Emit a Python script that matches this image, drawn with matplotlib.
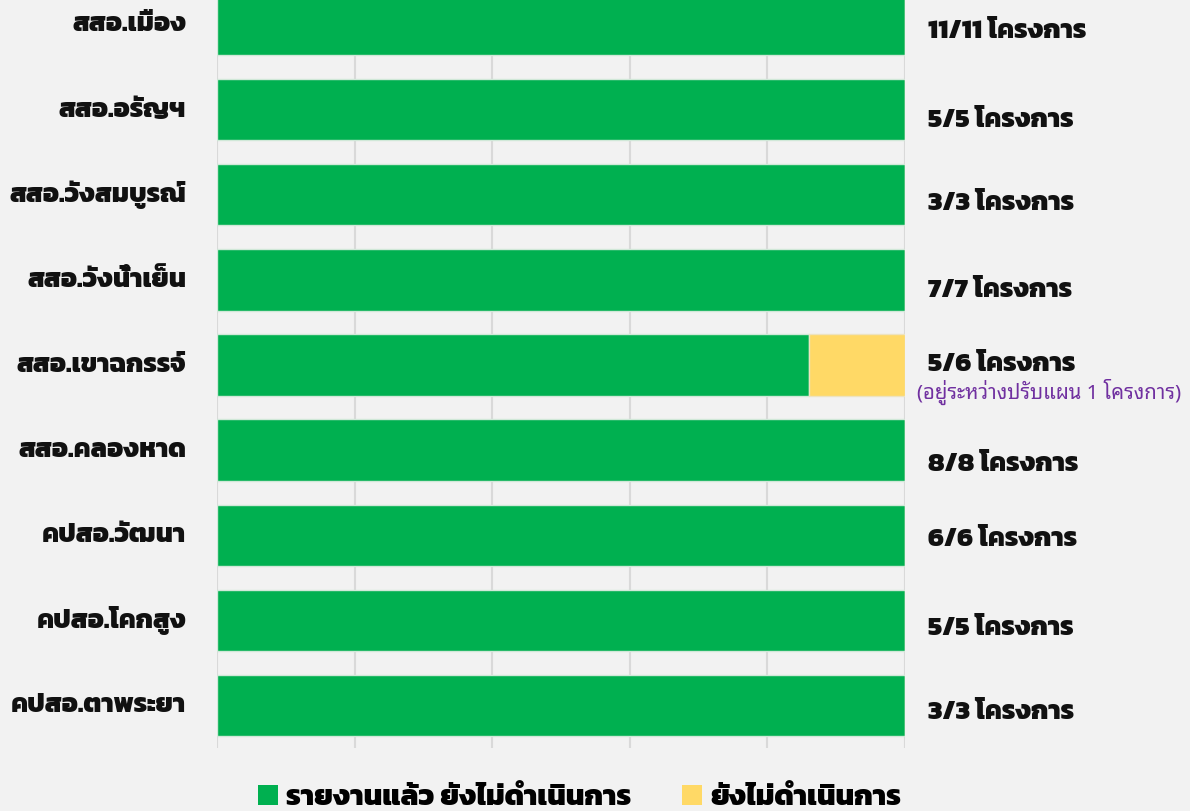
import matplotlib
matplotlib.use("Agg")
import matplotlib.pyplot as plt
from matplotlib.patches import Patch

# ---- data ----
categories = ["สสอ.เมือง", "สสอ.อรัญฯ", "สสอ.วังสมบูรณ์", "สสอ.วังน้ำเย็น",
              "สสอ.เขาฉกรรจ์", "สสอ.คลองหาด", "คปสอ.วัฒนา", "คปสอ.โคกสูง",
              "คปสอ.ตาพระยา"]
reported_pct = [100, 100, 100, 100, 86, 100, 100, 100, 100]
pending_pct = [0, 0, 0, 0, 14, 0, 0, 0, 0]
right_labels = ["11/11 โครงการ", "5/5 โครงการ", "3/3 โครงการ", "7/7 โครงการ",
                "5/6 โครงการ", "8/8 โครงการ", "6/6 โครงการ", "5/5 โครงการ",
                "3/3 โครงการ"]
note_index = 4
note_text = "(อยู่ระหว่างปรับแผน 1 โครงการ)"
legend_labels = ["รายงานแล้ว ยังไม่ดำเนินการ", "ยังไม่ดำเนินการ"]
xticks = [0, 20, 40, 60, 80, 100]

# layout: vertical offsets (in category units) of the right-hand labels
right_dy = [0.08, 0.125, 0.10, 0.12, -0.01, 0.165, 0.05, 0.095, 0.085]

GREEN = "#00B050"
YELLOW = "#FFD966"
BG = "#F2F2F2"
GRID = "#D9D9D9"
PURPLE = "#7030A0"
THAI_BOLD = ["Kanit", "DejaVu Sans"]
THAI_REG = ["Noto Sans Thai Looped", "DejaVu Sans"]
W = 800

fig = plt.figure(figsize=(11.9, 8.11), dpi=100, facecolor=BG)
ax = fig.add_axes([217/1190, 63/811, (905-217)/1190, (811+18-63)/811])
ax.set_facecolor(BG)

y = list(range(len(categories)))
ax.barh(y, reported_pct, height=0.72, color=GREEN, edgecolor="#D0E8D8", linewidth=1, zorder=3)
ax.barh(y, pending_pct, left=reported_pct, height=0.72, color=YELLOW,
        edgecolor="#EDE3C0", linewidth=1, zorder=3)

ax.set_xlim(0, 100)
ax.set_ylim(len(categories) - 0.5, -0.5)
ax.set_xticks(xticks)
ax.set_yticks([])
ax.grid(axis="x", color=GRID, linewidth=1.5, zorder=0)
ax.tick_params(axis="x", length=0, labelbottom=False)
for s in ax.spines.values():
    s.set_visible(False)

for i, cat in enumerate(categories):
    ax.text(-0.045, i + 0.005, cat, transform=ax.get_yaxis_transform(),
            ha="right", va="center", fontsize=19.3, fontweight=W,
            family=THAI_BOLD, color="#111111")
    ax.text(1.033, i + right_dy[i], right_labels[i], transform=ax.get_yaxis_transform(),
            ha="left", va="center", fontsize=19.3, fontweight=W,
            family=THAI_BOLD, color="#111111")
ax.text(1.018, note_index + 0.32, note_text, transform=ax.get_yaxis_transform(),
        ha="left", va="center", fontsize=14.6, family=THAI_REG, color=PURPLE)

handles = [Patch(facecolor=GREEN, edgecolor="none"), Patch(facecolor=YELLOW, edgecolor="none")]
fig.legend(handles, legend_labels, loc="center", bbox_to_anchor=(0.487, 0.016),
           ncol=2, frameon=False, handlelength=0.7, handleheight=0.7,
           handletextpad=0.28, columnspacing=1.72,
           prop={"family": THAI_BOLD, "weight": W, "size": 21})

fig.savefig("out.png", facecolor=BG)
